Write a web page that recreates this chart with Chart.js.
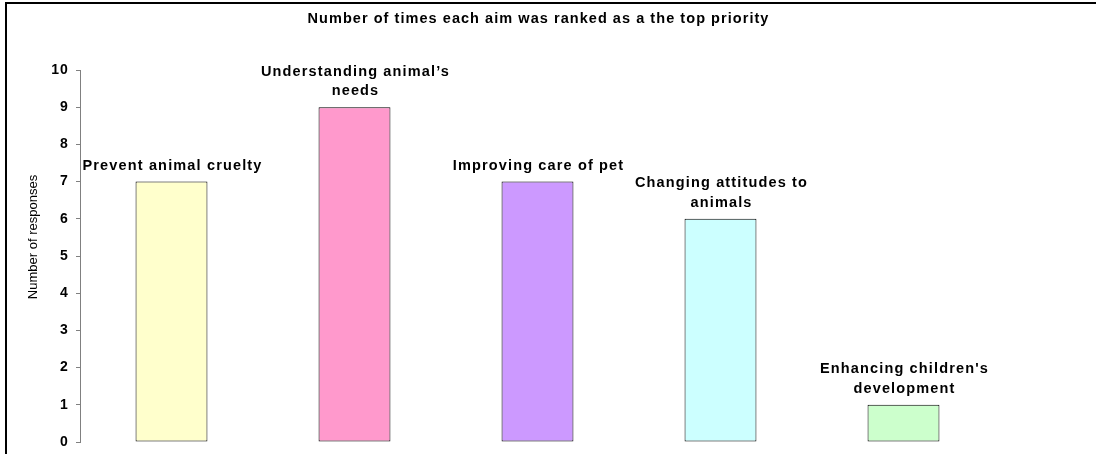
<!DOCTYPE html>
<html>
<head>
<meta charset="utf-8">
<script src="https://cdn.jsdelivr.net/npm/chart.js@4.4.1/dist/chart.umd.min.js"></script>
<style>
  html, body { margin: 0; padding: 0; background: #fff; overflow: hidden; }
  #wrap { position: relative; width: 1096px; height: 454px; }
</style>
</head>
<body>
<div id="wrap"><canvas id="c" width="1096" height="454"></canvas></div>
<script>
const categories = [
  ["Prevent animal cruelty"],
  ["Understanding animal\u2019s", "needs"],
  ["Improving care of pet"],
  ["Changing attitudes to", "animals"],
  ["Enhancing children's", "development"]
];
const values = [7, 9, 7, 6, 1];
const barColors = ["#FFFFCC", "#FF99CC", "#CC99FF", "#CCFFFF", "#CCFFCC"];
const yTicks = [0, 1, 2, 3, 4, 5, 6, 7, 8, 9, 10];
const titleText = "Number of times each aim was ranked as a the top priority";
const yTitle = "Number of responses";

const FONT = "'Liberation Sans', Arial, sans-serif";

const decor = {
  id: 'decor',
  beforeDraw(chart) {
    const ctx = chart.ctx;
    ctx.save();
    ctx.fillStyle = '#000';
    ctx.fillRect(5, 2, 1096, 2);
    ctx.fillRect(5, 2, 2, 454);
    ctx.restore();
    ctx.letterSpacing = '1.1px';
  },
  afterDraw(chart) {
    const ctx = chart.ctx;
    ctx.save();
    // title
    ctx.letterSpacing = '1.05px';
    ctx.fillStyle = '#000';
    ctx.font = 'bold 14.5px ' + FONT;
    ctx.textAlign = 'center';
    ctx.textBaseline = 'middle';
    const area = chart.chartArea;
    ctx.fillText(titleText, (area.left + area.right) / 2 + 1, 19);
    // bar labels
    ctx.letterSpacing = '1.15px';
    const meta = chart.getDatasetMeta(0);
    meta.data.forEach((bar, i) => {
      const lines = categories[i];
      const n = lines.length;
      lines.forEach((ln, j) => {
        const y = bar.y - 16 - (n - 1 - j) * 19.5;
        ctx.fillText(ln, bar.x + 1, y);
      });
    });
    // y title
    ctx.letterSpacing = '0px';
    ctx.font = '13px ' + FONT;
    ctx.translate(33, 237);
    ctx.rotate(-Math.PI / 2);
    ctx.fillText(yTitle, 0, 0);
    ctx.restore();
  }
};

new Chart(document.getElementById('c'), {
  type: 'bar',
  data: {
    labels: categories.map(c => c.join(' ')),
    datasets: [{
      data: values,
      backgroundColor: barColors,
      borderColor: '#000',
      borderWidth: 1,
      borderSkipped: false,
      barPercentage: 0.393,
      categoryPercentage: 1
    }]
  },
  options: {
    responsive: false,
    animation: false,
    devicePixelRatio: 1,
    layout: { padding: { top: 70, right: 101, bottom: 12, left: 0 } },
    plugins: {
      legend: { display: false },
      title: { display: false },
      tooltip: { enabled: false }
    },
    scales: {
      x: { display: false },
      y: {
        min: 0,
        max: 10,
        afterFit(scale) {
          scale.width = 80;
          scale.paddingTop = 0;
          scale.paddingBottom = 0;
        },
        afterBuildTicks(scale) { scale.ticks = yTicks.map(v => ({ value: v })); },
        grid: {
          drawOnChartArea: false,
          drawTicks: true,
          tickLength: 4,
          color: '#808080'
        },
        border: { display: true, color: '#808080', width: 1 },
        ticks: {
          color: '#000',
          padding: 7,
          font: { family: FONT, size: 14, weight: 'bold' }
        }
      }
    }
  },
  plugins: [decor]
});
</script>
</body>
</html>
